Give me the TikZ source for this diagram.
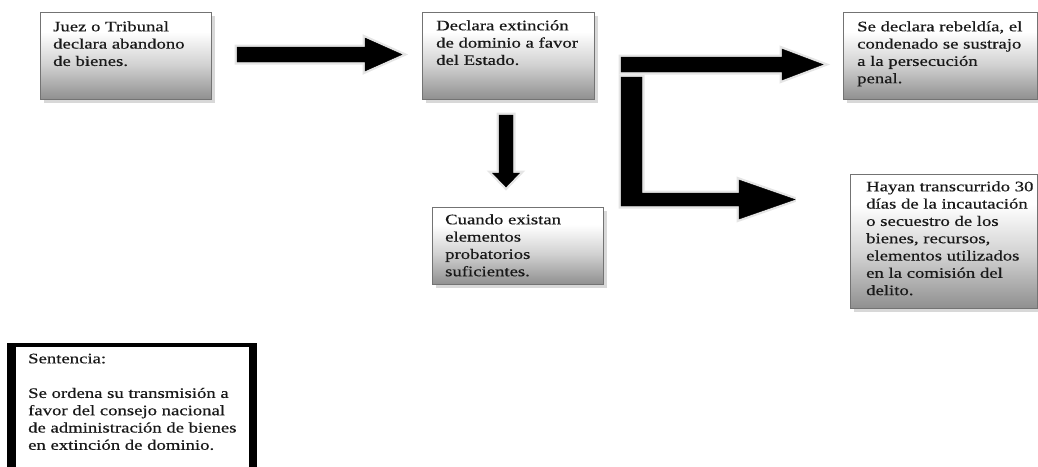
\documentclass[tikz,border=0pt]{standalone}
\usepackage{fontspec}
\setmainfont{Liberation Serif}[FakeStretch=1.29,FakeBold=0.5]
\usetikzlibrary{shadows}
\pgfdeclareverticalshading{boxgrad}{100bp}{color(0bp)=(black!44); color(25bp)=(black!44); color(45bp)=(black!18); color(64bp)=(white); color(100bp)=(white)}
\begin{document}
\begin{tikzpicture}[x=1pt,y=-1pt,
  box/.style={rectangle, anchor=north west, inner sep=0pt, draw=black!55, line width=1.3pt,
    shade, shading=boxgrad, drop shadow={shadow xshift=3pt, shadow yshift=-3pt, fill=black!30}},
  txt/.style={anchor=north west, inner sep=0pt, align=left, text=black!90,
    font=\fontsize{14.5}{17.3}\selectfont},
  blockarrow/.style={fill=black, preaction={draw=black!10, line width=5pt, line join=miter, miter limit=3}}]
\useasboundingbox (0,0) rectangle (1038,466);
% boxes
\node[box, minimum width=171pt, minimum height=87pt] (b1) at (40,12) {};
\node[box, minimum width=172pt, minimum height=87pt] (b2) at (422,12) {};
\node[box, minimum width=194pt, minimum height=87pt] (b3) at (843,12) {};
\node[box, minimum width=171pt, minimum height=77pt] (b4) at (432,207) {};
\node[box, minimum width=187pt, minimum height=134pt] (b5) at (850,174) {};
% texts
\node[txt] (t1) at ([shift={(13pt,-7pt)}]b1.north west) {\strut Juez o Tribunal\\declara abandono\\de bienes.};
\node[txt] (t2) at ([shift={(14pt,-6pt)}]b2.north west) {\strut Declara extinción\\de dominio a favor\\del Estado.};
\node[txt] (t3) at ([shift={(14pt,-7pt)}]b3.north west) {\strut Se declara rebeldía, el\\condenado se sustrajo\\a la persecución\\penal.};
\node[txt] (t4) at ([shift={(13pt,-5pt)}]b4.north west) {\strut Cuando existan\\elementos\\probatorios\\suficientes.};
\node[txt] (t5) at ([shift={(16pt,-5pt)}]b5.north west) {\strut Hayan transcurrido 30\\días de la incautación\\o secuestro de los\\bienes, recursos,\\elementos utilizados\\en la comisión del\\delito.};
% block arrows
\draw[blockarrow] (237,47) -- (365,47) -- (365,38) -- (402,54.5) -- (365,71) -- (365,62) -- (237,62) -- cycle;
\draw[blockarrow] (621,57) -- (782,57) -- (782,49) -- (823,64.5) -- (782,80) -- (782,72) -- (621,72) -- cycle;
\draw[blockarrow] (621,77) -- (642,77) -- (642,193) -- (739,193) -- (739,180) -- (795,199.5) -- (739,219) -- (739,206) -- (621,206) -- cycle;
\draw[blockarrow] (499,115) -- (513,115) -- (513,173) -- (519.5,173) -- (506,187) -- (492.5,173) -- (499,173) -- cycle;
% sentencia frame
\fill[black] (7,343) rectangle (257,470);
\fill[white] (16,347) rectangle (249,470);
\node[txt] (t6) at (28,351) {\strut Sentencia:\\[17.3pt]Se ordena su transmisión a\\favor del consejo nacional\\de administración de bienes\\en extinción de dominio.};
\end{tikzpicture}
\end{document}
